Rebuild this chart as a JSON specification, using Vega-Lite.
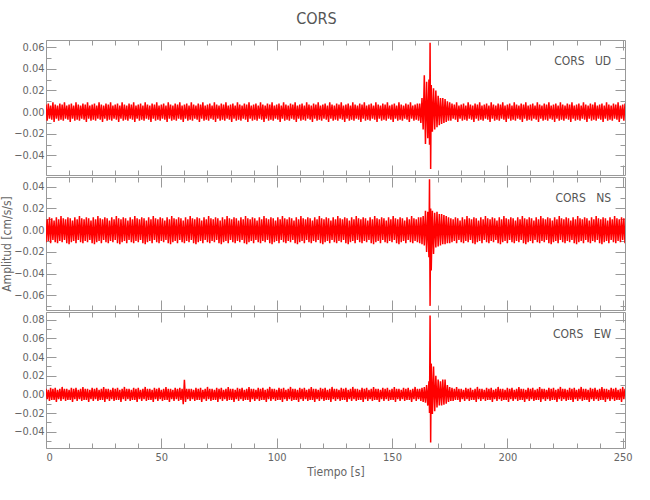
{
"$schema":"https://vega.github.io/schema/vega-lite/v6.json",
"background":"white",
"padding":{"left":0,"top":11,"right":23,"bottom":5},
"title":{"text":"CORS","fontSize":16,"font":"Liberation Sans Narrow, DejaVu Sans Condensed, Liberation Sans, sans-serif","fontWeight":"normal","color":"#555555","anchor":"middle","offset":12},
"spacing":0,
"config":{"view":{"stroke":"#999999","strokeWidth":1},"font":"Liberation Sans Narrow, DejaVu Sans Condensed, Liberation Sans, sans-serif",
"axis":{"labelFont":"Liberation Sans Narrow, DejaVu Sans Condensed, Liberation Sans, sans-serif","labelFontSize":11,"labelColor":"#666666","tickColor":"#999999","domain":false,"grid":false,"titleFont":"Liberation Sans Narrow, DejaVu Sans Condensed, Liberation Sans, sans-serif","titleFontWeight":"normal","titleFontSize":12,"titleColor":"#666666"}},
"datasets":{"trace":[
{"t":0,"UD":0.007,"NS":-0.011,"EW":0.006},{"t":0.5,"UD":-0.008,"NS":0.010,"EW":-0.005},{"t":1,"UD":0.008,"NS":-0.010,"EW":0.005},{"t":1.5,"UD":-0.006,"NS":0.012,"EW":-0.007},{"t":2,"UD":0.006,"NS":-0.012,"EW":0.007},{"t":2.5,"UD":-0.007,"NS":0.011,"EW":-0.006},{"t":3,"UD":0.009,"NS":-0.009,"EW":0.006},{"t":3.5,"UD":-0.009,"NS":0.009,"EW":-0.006},{"t":4,"UD":0.007,"NS":-0.011,"EW":0.007},{"t":4.5,"UD":-0.006,"NS":0.012,"EW":-0.008},
{"t":5,"UD":0.006,"NS":-0.012,"EW":0.005},{"t":5.5,"UD":-0.008,"NS":0.010,"EW":-0.005},{"t":6,"UD":0.008,"NS":-0.010,"EW":0.006},{"t":6.5,"UD":-0.007,"NS":0.013,"EW":-0.007},{"t":7,"UD":0.007,"NS":-0.011,"EW":0.008},{"t":7.5,"UD":-0.008,"NS":0.011,"EW":-0.005},{"t":8,"UD":0.009,"NS":-0.009,"EW":0.006},{"t":8.5,"UD":-0.006,"NS":0.010,"EW":-0.007},{"t":9,"UD":0.006,"NS":-0.012,"EW":0.006},{"t":9.5,"UD":-0.007,"NS":0.012,"EW":-0.006},
{"t":10,"UD":0.007,"NS":-0.013,"EW":0.005},{"t":10.5,"UD":-0.009,"NS":0.011,"EW":-0.006},{"t":11,"UD":0.008,"NS":-0.011,"EW":0.007},{"t":11.5,"UD":-0.006,"NS":0.009,"EW":-0.008},{"t":12,"UD":0.006,"NS":-0.010,"EW":0.006},{"t":12.5,"UD":-0.008,"NS":0.012,"EW":-0.005},{"t":13,"UD":0.009,"NS":-0.012,"EW":0.007},{"t":13.5,"UD":-0.007,"NS":0.010,"EW":-0.007},{"t":14,"UD":0.007,"NS":-0.009,"EW":0.005},{"t":14.5,"UD":-0.008,"NS":0.013,"EW":-0.005},
{"t":15,"UD":0.006,"NS":-0.011,"EW":0.006},{"t":15.5,"UD":-0.006,"NS":0.011,"EW":-0.007},{"t":16,"UD":0.008,"NS":-0.012,"EW":0.008},{"t":16.5,"UD":-0.007,"NS":0.010,"EW":-0.006},{"t":17,"UD":0.007,"NS":-0.010,"EW":0.006},{"t":17.5,"UD":-0.009,"NS":0.012,"EW":-0.006},{"t":18,"UD":0.009,"NS":-0.011,"EW":0.006},{"t":18.5,"UD":-0.006,"NS":0.011,"EW":-0.008},{"t":19,"UD":0.006,"NS":-0.009,"EW":0.005},{"t":19.5,"UD":-0.008,"NS":0.009,"EW":-0.005},
{"t":20,"UD":0.007,"NS":-0.012,"EW":0.007},{"t":20.5,"UD":-0.007,"NS":0.012,"EW":-0.007},{"t":21,"UD":0.008,"NS":-0.013,"EW":0.006},{"t":21.5,"UD":-0.008,"NS":0.010,"EW":-0.005},{"t":22,"UD":0.006,"NS":-0.011,"EW":0.007},{"t":22.5,"UD":-0.006,"NS":0.013,"EW":-0.007},{"t":23,"UD":0.009,"NS":-0.010,"EW":0.005},{"t":23.5,"UD":-0.007,"NS":0.011,"EW":-0.006},{"t":24,"UD":0.007,"NS":-0.012,"EW":0.006},{"t":24.5,"UD":-0.009,"NS":0.010,"EW":-0.006},
{"t":25,"UD":0.006,"NS":-0.009,"EW":0.008},{"t":25.5,"UD":-0.006,"NS":0.012,"EW":-0.008},{"t":26,"UD":0.008,"NS":-0.011,"EW":0.006},{"t":26.5,"UD":-0.008,"NS":0.011,"EW":-0.005},{"t":27,"UD":0.007,"NS":-0.012,"EW":0.006},{"t":27.5,"UD":-0.007,"NS":0.009,"EW":-0.007},{"t":28,"UD":0.009,"NS":-0.010,"EW":0.005},{"t":28.5,"UD":-0.008,"NS":0.012,"EW":-0.005},{"t":29,"UD":0.006,"NS":-0.011,"EW":0.007},{"t":29.5,"UD":-0.006,"NS":0.010,"EW":-0.007},
{"t":30,"UD":0.007,"NS":-0.009,"EW":0.006},{"t":30.5,"UD":-0.007,"NS":0.013,"EW":-0.006},{"t":31,"UD":0.008,"NS":-0.012,"EW":0.007},{"t":31.5,"UD":-0.009,"NS":0.011,"EW":-0.006},{"t":32,"UD":0.006,"NS":-0.013,"EW":0.005},{"t":32.5,"UD":-0.006,"NS":0.010,"EW":-0.008},{"t":33,"UD":0.009,"NS":-0.011,"EW":0.006},{"t":33.5,"UD":-0.008,"NS":0.012,"EW":-0.005},{"t":34,"UD":0.007,"NS":-0.010,"EW":0.008},{"t":34.5,"UD":-0.007,"NS":0.011,"EW":-0.007},
{"t":35,"UD":0.006,"NS":-0.012,"EW":0.006},{"t":35.5,"UD":-0.008,"NS":0.009,"EW":-0.005},{"t":36,"UD":0.008,"NS":-0.009,"EW":0.006},{"t":36.5,"UD":-0.006,"NS":0.012,"EW":-0.007},{"t":37,"UD":0.007,"NS":-0.011,"EW":0.005},{"t":37.5,"UD":-0.007,"NS":0.010,"EW":-0.006},{"t":38,"UD":0.009,"NS":-0.012,"EW":0.007},{"t":38.5,"UD":-0.009,"NS":0.013,"EW":-0.006},{"t":39,"UD":0.006,"NS":-0.010,"EW":0.006},{"t":39.5,"UD":-0.006,"NS":0.011,"EW":-0.008},
{"t":40,"UD":0.007,"NS":-0.011,"EW":0.007},{"t":40.5,"UD":-0.008,"NS":0.010,"EW":-0.005},{"t":41,"UD":0.008,"NS":-0.009,"EW":0.005},{"t":41.5,"UD":-0.007,"NS":0.012,"EW":-0.007},{"t":42,"UD":0.006,"NS":-0.012,"EW":0.006},{"t":42.5,"UD":-0.008,"NS":0.011,"EW":-0.005},{"t":43,"UD":0.009,"NS":-0.013,"EW":0.008},{"t":43.5,"UD":-0.006,"NS":0.009,"EW":-0.007},{"t":44,"UD":0.007,"NS":-0.011,"EW":0.006},{"t":44.5,"UD":-0.007,"NS":0.012,"EW":-0.006},
{"t":45,"UD":0.006,"NS":-0.010,"EW":0.006},{"t":45.5,"UD":-0.009,"NS":0.010,"EW":-0.006},{"t":46,"UD":0.008,"NS":-0.012,"EW":0.005},{"t":46.5,"UD":-0.006,"NS":0.013,"EW":-0.008},{"t":47,"UD":0.007,"NS":-0.009,"EW":0.007},{"t":47.5,"UD":-0.008,"NS":0.011,"EW":-0.005},{"t":48,"UD":0.009,"NS":-0.011,"EW":0.006},{"t":48.5,"UD":-0.007,"NS":0.010,"EW":-0.007},{"t":49,"UD":0.006,"NS":-0.012,"EW":0.007},{"t":49.5,"UD":-0.008,"NS":0.012,"EW":-0.005},
{"t":50,"UD":0.007,"NS":-0.010,"EW":0.005},{"t":50.5,"UD":-0.006,"NS":0.011,"EW":-0.007},{"t":51,"UD":0.008,"NS":-0.011,"EW":0.006},{"t":51.5,"UD":-0.007,"NS":0.009,"EW":-0.006},{"t":52,"UD":0.006,"NS":-0.009,"EW":0.008},{"t":52.5,"UD":-0.009,"NS":0.012,"EW":-0.006},{"t":53,"UD":0.009,"NS":-0.012,"EW":0.006},{"t":53.5,"UD":-0.006,"NS":0.010,"EW":-0.008},{"t":54,"UD":0.007,"NS":-0.013,"EW":0.006},{"t":54.5,"UD":-0.008,"NS":0.013,"EW":-0.005},
{"t":55,"UD":0.006,"NS":-0.011,"EW":0.005},{"t":55.5,"UD":-0.007,"NS":0.011,"EW":-0.007},{"t":56,"UD":0.008,"NS":-0.010,"EW":0.007},{"t":56.5,"UD":-0.008,"NS":0.010,"EW":-0.005},{"t":57,"UD":0.007,"NS":-0.012,"EW":0.006},{"t":57.5,"UD":-0.006,"NS":0.012,"EW":-0.007},{"t":58,"UD":0.009,"NS":-0.009,"EW":0.007},{"t":58.5,"UD":-0.007,"NS":0.011,"EW":-0.006},{"t":59,"UD":0.006,"NS":-0.011,"EW":0.006},{"t":59.5,"UD":-0.009,"NS":0.009,"EW":-0.0104},
{"t":60,"UD":0.007,"NS":-0.012,"EW":0.0158},{"t":60.5,"UD":-0.006,"NS":0.012,"EW":-0.008},{"t":61,"UD":0.008,"NS":-0.010,"EW":0.006},{"t":61.5,"UD":-0.008,"NS":0.010,"EW":-0.005},{"t":62,"UD":0.006,"NS":-0.011,"EW":0.006},{"t":62.5,"UD":-0.007,"NS":0.013,"EW":-0.007},{"t":63,"UD":0.009,"NS":-0.009,"EW":0.006},{"t":63.5,"UD":-0.008,"NS":0.011,"EW":-0.005},{"t":64,"UD":0.007,"NS":-0.012,"EW":0.005},{"t":64.5,"UD":-0.006,"NS":0.010,"EW":-0.007},
{"t":65,"UD":0.006,"NS":-0.013,"EW":0.007},{"t":65.5,"UD":-0.007,"NS":0.012,"EW":-0.006},{"t":66,"UD":0.008,"NS":-0.011,"EW":0.006},{"t":66.5,"UD":-0.009,"NS":0.011,"EW":-0.006},{"t":67,"UD":0.007,"NS":-0.010,"EW":0.007},{"t":67.5,"UD":-0.006,"NS":0.009,"EW":-0.008},{"t":68,"UD":0.009,"NS":-0.012,"EW":0.005},{"t":68.5,"UD":-0.008,"NS":0.012,"EW":-0.005},{"t":69,"UD":0.006,"NS":-0.009,"EW":0.006},{"t":69.5,"UD":-0.007,"NS":0.010,"EW":-0.007},
{"t":70,"UD":0.007,"NS":-0.011,"EW":0.008},{"t":70.5,"UD":-0.008,"NS":0.013,"EW":-0.005},{"t":71,"UD":0.008,"NS":-0.012,"EW":0.006},{"t":71.5,"UD":-0.006,"NS":0.011,"EW":-0.007},{"t":72,"UD":0.006,"NS":-0.010,"EW":0.006},{"t":72.5,"UD":-0.007,"NS":0.010,"EW":-0.006},{"t":73,"UD":0.009,"NS":-0.011,"EW":0.005},{"t":73.5,"UD":-0.009,"NS":0.012,"EW":-0.006},{"t":74,"UD":0.007,"NS":-0.009,"EW":0.007},{"t":74.5,"UD":-0.006,"NS":0.011,"EW":-0.008},
{"t":75,"UD":0.006,"NS":-0.012,"EW":0.006},{"t":75.5,"UD":-0.008,"NS":0.009,"EW":-0.005},{"t":76,"UD":0.008,"NS":-0.013,"EW":0.007},{"t":76.5,"UD":-0.007,"NS":0.012,"EW":-0.007},{"t":77,"UD":0.007,"NS":-0.011,"EW":0.005},{"t":77.5,"UD":-0.008,"NS":0.010,"EW":-0.005},{"t":78,"UD":0.009,"NS":-0.010,"EW":0.006},{"t":78.5,"UD":-0.006,"NS":0.013,"EW":-0.007},{"t":79,"UD":0.006,"NS":-0.012,"EW":0.008},{"t":79.5,"UD":-0.007,"NS":0.011,"EW":-0.006},
{"t":80,"UD":0.007,"NS":-0.009,"EW":0.006},{"t":80.5,"UD":-0.009,"NS":0.010,"EW":-0.006},{"t":81,"UD":0.008,"NS":-0.011,"EW":0.006},{"t":81.5,"UD":-0.006,"NS":0.012,"EW":-0.008},{"t":82,"UD":0.006,"NS":-0.012,"EW":0.005},{"t":82.5,"UD":-0.008,"NS":0.011,"EW":-0.005},{"t":83,"UD":0.009,"NS":-0.010,"EW":0.007},{"t":83.5,"UD":-0.007,"NS":0.009,"EW":-0.007},{"t":84,"UD":0.007,"NS":-0.011,"EW":0.006},{"t":84.5,"UD":-0.008,"NS":0.012,"EW":-0.005},
{"t":85,"UD":0.006,"NS":-0.009,"EW":0.007},{"t":85.5,"UD":-0.006,"NS":0.010,"EW":-0.007},{"t":86,"UD":0.008,"NS":-0.012,"EW":0.005},{"t":86.5,"UD":-0.007,"NS":0.013,"EW":-0.006},{"t":87,"UD":0.007,"NS":-0.013,"EW":0.006},{"t":87.5,"UD":-0.009,"NS":0.011,"EW":-0.006},{"t":88,"UD":0.009,"NS":-0.011,"EW":0.008},{"t":88.5,"UD":-0.006,"NS":0.010,"EW":-0.008},{"t":89,"UD":0.006,"NS":-0.010,"EW":0.006},{"t":89.5,"UD":-0.008,"NS":0.012,"EW":-0.005},
{"t":90,"UD":0.007,"NS":-0.012,"EW":0.006},{"t":90.5,"UD":-0.007,"NS":0.011,"EW":-0.007},{"t":91,"UD":0.008,"NS":-0.009,"EW":0.005},{"t":91.5,"UD":-0.008,"NS":0.009,"EW":-0.005},{"t":92,"UD":0.006,"NS":-0.011,"EW":0.007},{"t":92.5,"UD":-0.006,"NS":0.012,"EW":-0.007},{"t":93,"UD":0.009,"NS":-0.012,"EW":0.006},{"t":93.5,"UD":-0.007,"NS":0.010,"EW":-0.006},{"t":94,"UD":0.007,"NS":-0.010,"EW":0.007},{"t":94.5,"UD":-0.009,"NS":0.013,"EW":-0.006},
{"t":95,"UD":0.006,"NS":-0.011,"EW":0.005},{"t":95.5,"UD":-0.006,"NS":0.011,"EW":-0.008},{"t":96,"UD":0.008,"NS":-0.009,"EW":0.006},{"t":96.5,"UD":-0.008,"NS":0.010,"EW":-0.005},{"t":97,"UD":0.007,"NS":-0.012,"EW":0.008},{"t":97.5,"UD":-0.007,"NS":0.012,"EW":-0.007},{"t":98,"UD":0.009,"NS":-0.013,"EW":0.006},{"t":98.5,"UD":-0.008,"NS":0.011,"EW":-0.005},{"t":99,"UD":0.006,"NS":-0.011,"EW":0.006},{"t":99.5,"UD":-0.006,"NS":0.009,"EW":-0.007},
{"t":100,"UD":0.007,"NS":-0.010,"EW":0.005},{"t":100.5,"UD":-0.007,"NS":0.012,"EW":-0.006},{"t":101,"UD":0.008,"NS":-0.012,"EW":0.007},{"t":101.5,"UD":-0.009,"NS":0.010,"EW":-0.006},{"t":102,"UD":0.006,"NS":-0.009,"EW":0.006},{"t":102.5,"UD":-0.006,"NS":0.013,"EW":-0.008},{"t":103,"UD":0.009,"NS":-0.011,"EW":0.007},{"t":103.5,"UD":-0.008,"NS":0.011,"EW":-0.005},{"t":104,"UD":0.007,"NS":-0.012,"EW":0.005},{"t":104.5,"UD":-0.007,"NS":0.010,"EW":-0.007},
{"t":105,"UD":0.006,"NS":-0.010,"EW":0.006},{"t":105.5,"UD":-0.008,"NS":0.012,"EW":-0.005},{"t":106,"UD":0.008,"NS":-0.011,"EW":0.008},{"t":106.5,"UD":-0.006,"NS":0.011,"EW":-0.007},{"t":107,"UD":0.007,"NS":-0.009,"EW":0.006},{"t":107.5,"UD":-0.007,"NS":0.009,"EW":-0.006},{"t":108,"UD":0.009,"NS":-0.012,"EW":0.006},{"t":108.5,"UD":-0.009,"NS":0.012,"EW":-0.006},{"t":109,"UD":0.006,"NS":-0.013,"EW":0.005},{"t":109.5,"UD":-0.006,"NS":0.010,"EW":-0.008},
{"t":110,"UD":0.007,"NS":-0.011,"EW":0.007},{"t":110.5,"UD":-0.008,"NS":0.013,"EW":-0.005},{"t":111,"UD":0.008,"NS":-0.010,"EW":0.006},{"t":111.5,"UD":-0.007,"NS":0.011,"EW":-0.007},{"t":112,"UD":0.006,"NS":-0.012,"EW":0.007},{"t":112.5,"UD":-0.008,"NS":0.010,"EW":-0.005},{"t":113,"UD":0.009,"NS":-0.009,"EW":0.005},{"t":113.5,"UD":-0.006,"NS":0.012,"EW":-0.007},{"t":114,"UD":0.007,"NS":-0.011,"EW":0.006},{"t":114.5,"UD":-0.007,"NS":0.011,"EW":-0.006},
{"t":115,"UD":0.006,"NS":-0.012,"EW":0.008},{"t":115.5,"UD":-0.009,"NS":0.009,"EW":-0.006},{"t":116,"UD":0.008,"NS":-0.010,"EW":0.006},{"t":116.5,"UD":-0.006,"NS":0.012,"EW":-0.008},{"t":117,"UD":0.007,"NS":-0.011,"EW":0.006},{"t":117.5,"UD":-0.008,"NS":0.010,"EW":-0.005},{"t":118,"UD":0.009,"NS":-0.009,"EW":0.005},{"t":118.5,"UD":-0.007,"NS":0.013,"EW":-0.007},{"t":119,"UD":0.006,"NS":-0.012,"EW":0.007},{"t":119.5,"UD":-0.008,"NS":0.011,"EW":-0.005},
{"t":120,"UD":0.007,"NS":-0.013,"EW":0.006},{"t":120.5,"UD":-0.006,"NS":0.010,"EW":-0.007},{"t":121,"UD":0.008,"NS":-0.011,"EW":0.007},{"t":121.5,"UD":-0.007,"NS":0.012,"EW":-0.006},{"t":122,"UD":0.006,"NS":-0.010,"EW":0.005},{"t":122.5,"UD":-0.009,"NS":0.011,"EW":-0.006},{"t":123,"UD":0.009,"NS":-0.012,"EW":0.006},{"t":123.5,"UD":-0.006,"NS":0.009,"EW":-0.008},{"t":124,"UD":0.007,"NS":-0.009,"EW":0.008},{"t":124.5,"UD":-0.008,"NS":0.012,"EW":-0.005},
{"t":125,"UD":0.006,"NS":-0.011,"EW":0.006},{"t":125.5,"UD":-0.007,"NS":0.010,"EW":-0.007},{"t":126,"UD":0.008,"NS":-0.012,"EW":0.006},{"t":126.5,"UD":-0.008,"NS":0.013,"EW":-0.005},{"t":127,"UD":0.007,"NS":-0.010,"EW":0.005},{"t":127.5,"UD":-0.006,"NS":0.011,"EW":-0.007},{"t":128,"UD":0.009,"NS":-0.011,"EW":0.007},{"t":128.5,"UD":-0.007,"NS":0.010,"EW":-0.006},{"t":129,"UD":0.006,"NS":-0.009,"EW":0.006},{"t":129.5,"UD":-0.009,"NS":0.012,"EW":-0.006},
{"t":130,"UD":0.007,"NS":-0.012,"EW":0.007},{"t":130.5,"UD":-0.006,"NS":0.011,"EW":-0.008},{"t":131,"UD":0.008,"NS":-0.013,"EW":0.005},{"t":131.5,"UD":-0.008,"NS":0.009,"EW":-0.005},{"t":132,"UD":0.006,"NS":-0.011,"EW":0.006},{"t":132.5,"UD":-0.007,"NS":0.012,"EW":-0.007},{"t":133,"UD":0.009,"NS":-0.010,"EW":0.008},{"t":133.5,"UD":-0.008,"NS":0.010,"EW":-0.005},{"t":134,"UD":0.007,"NS":-0.012,"EW":0.006},{"t":134.5,"UD":-0.006,"NS":0.013,"EW":-0.007},
{"t":135,"UD":0.006,"NS":-0.009,"EW":0.006},{"t":135.5,"UD":-0.007,"NS":0.011,"EW":-0.006},{"t":136,"UD":0.008,"NS":-0.011,"EW":0.005},{"t":136.5,"UD":-0.009,"NS":0.010,"EW":-0.006},{"t":137,"UD":0.007,"NS":-0.012,"EW":0.007},{"t":137.5,"UD":-0.006,"NS":0.012,"EW":-0.008},{"t":138,"UD":0.009,"NS":-0.010,"EW":0.006},{"t":138.5,"UD":-0.008,"NS":0.011,"EW":-0.005},{"t":139,"UD":0.006,"NS":-0.011,"EW":0.007},{"t":139.5,"UD":-0.007,"NS":0.009,"EW":-0.007},
{"t":140,"UD":0.007,"NS":-0.009,"EW":0.005},{"t":140.5,"UD":-0.008,"NS":0.012,"EW":-0.005},{"t":141,"UD":0.008,"NS":-0.012,"EW":0.006},{"t":141.5,"UD":-0.006,"NS":0.010,"EW":-0.007},{"t":142,"UD":0.006,"NS":-0.013,"EW":0.008},{"t":142.5,"UD":-0.007,"NS":0.013,"EW":-0.006},{"t":143,"UD":0.009,"NS":-0.011,"EW":0.006},{"t":143.5,"UD":-0.009,"NS":0.011,"EW":-0.006},{"t":144,"UD":0.007,"NS":-0.010,"EW":0.006},{"t":144.5,"UD":-0.006,"NS":0.010,"EW":-0.008},
{"t":145,"UD":0.006,"NS":-0.012,"EW":0.005},{"t":145.5,"UD":-0.008,"NS":0.012,"EW":-0.005},{"t":146,"UD":0.008,"NS":-0.009,"EW":0.007},{"t":146.5,"UD":-0.007,"NS":0.011,"EW":-0.007},{"t":147,"UD":0.007,"NS":-0.011,"EW":0.006},{"t":147.5,"UD":-0.008,"NS":0.009,"EW":-0.005},{"t":148,"UD":0.009,"NS":-0.012,"EW":0.007},{"t":148.5,"UD":-0.006,"NS":0.012,"EW":-0.007},{"t":149,"UD":0.006,"NS":-0.010,"EW":0.005},{"t":149.5,"UD":-0.007,"NS":0.010,"EW":-0.006},
{"t":150,"UD":0.007,"NS":-0.011,"EW":0.006},{"t":150.5,"UD":-0.009,"NS":0.013,"EW":-0.006},{"t":151,"UD":0.008,"NS":-0.009,"EW":0.008},{"t":151.5,"UD":-0.006,"NS":0.011,"EW":-0.008},{"t":152,"UD":0.006,"NS":-0.012,"EW":0.006},{"t":152.5,"UD":-0.008,"NS":0.010,"EW":-0.005},{"t":153,"UD":0.009,"NS":-0.013,"EW":0.006},{"t":153.5,"UD":-0.007,"NS":0.012,"EW":-0.007},{"t":154,"UD":0.007,"NS":-0.011,"EW":0.005},{"t":154.5,"UD":-0.008,"NS":0.011,"EW":-0.005},
{"t":155,"UD":0.006,"NS":-0.010,"EW":0.007},{"t":155.5,"UD":-0.006,"NS":0.009,"EW":-0.007},{"t":156,"UD":0.008,"NS":-0.012,"EW":0.006},{"t":156.5,"UD":-0.007,"NS":0.012,"EW":-0.006},{"t":157,"UD":0.007,"NS":-0.009,"EW":0.007},{"t":157.5,"UD":-0.009,"NS":0.010,"EW":-0.006},{"t":158,"UD":0.009,"NS":-0.011,"EW":0.005},{"t":158.5,"UD":-0.006,"NS":0.013,"EW":-0.008},{"t":159,"UD":0.006,"NS":-0.012,"EW":0.006},{"t":159.5,"UD":-0.008,"NS":0.011,"EW":-0.005},
{"t":160,"UD":0.007,"NS":-0.010,"EW":0.008},{"t":160.5,"UD":-0.007,"NS":0.010,"EW":-0.007},{"t":161,"UD":0.008,"NS":-0.011,"EW":0.006},{"t":161.5,"UD":-0.008,"NS":0.012,"EW":-0.005},
{"t":162,"UD":0.008,"NS":-0.012,"EW":0.006},{"t":162.5,"UD":-0.010,"NS":0.012,"EW":-0.007},{"t":163,"UD":0.013,"NS":-0.013,"EW":0.007},{"t":163.5,"UD":-0.016,"NS":0.013,"EW":-0.008},{"t":164,"UD":0.034,"NS":-0.014,"EW":0.008},{"t":164.5,"UD":-0.0295,"NS":0.018,"EW":-0.009},{"t":165,"UD":0.028,"NS":-0.020,"EW":0.010},{"t":165.5,"UD":-0.024,"NS":0.017,"EW":-0.012},
{"t":166,"UD":0.030,"NS":-0.025,"EW":0.014},{"t":166.25,"UD":-0.030,"NS":0.047,"EW":-0.020},{"t":166.5,"UD":0.064,"NS":-0.0697,"EW":0.0846},{"t":166.75,"UD":-0.0525,"NS":0.020,"EW":-0.0516},{"t":167,"UD":0.025,"NS":-0.037,"EW":0.033},{"t":167.5,"UD":-0.018,"NS":0.018,"EW":-0.021},
{"t":168,"UD":0.022,"NS":-0.022,"EW":0.030},{"t":168.5,"UD":-0.016,"NS":0.016,"EW":-0.018},{"t":169,"UD":0.020,"NS":-0.016,"EW":0.020},{"t":169.5,"UD":-0.014,"NS":0.017,"EW":-0.014},{"t":170,"UD":0.015,"NS":-0.015,"EW":0.016},{"t":170.5,"UD":-0.012,"NS":0.015,"EW":-0.012},{"t":171,"UD":0.013,"NS":-0.014,"EW":0.014},{"t":171.5,"UD":-0.011,"NS":0.015,"EW":-0.012},
{"t":172,"UD":0.013,"NS":-0.013,"EW":0.016},{"t":172.5,"UD":-0.010,"NS":0.014,"EW":-0.011},{"t":173,"UD":0.012,"NS":-0.013,"EW":0.016},{"t":173.5,"UD":-0.009,"NS":0.013,"EW":-0.010},{"t":174,"UD":0.010,"NS":-0.012,"EW":0.010},{"t":174.5,"UD":-0.008,"NS":0.012,"EW":-0.008},{"t":175,"UD":0.009,"NS":-0.012,"EW":0.008},{"t":175.5,"UD":-0.008,"NS":0.011,"EW":-0.007},{"t":176,"UD":0.008,"NS":-0.011,"EW":0.007},
{"t":176.5,"UD":-0.006,"NS":0.010,"EW":-0.007},{"t":177,"UD":0.007,"NS":-0.010,"EW":0.006},{"t":177.5,"UD":-0.007,"NS":0.012,"EW":-0.006},{"t":178,"UD":0.009,"NS":-0.012,"EW":0.008},{"t":178.5,"UD":-0.009,"NS":0.011,"EW":-0.006},{"t":179,"UD":0.006,"NS":-0.009,"EW":0.006},{"t":179.5,"UD":-0.006,"NS":0.009,"EW":-0.008},
{"t":180,"UD":0.007,"NS":-0.011,"EW":0.006},{"t":180.5,"UD":-0.008,"NS":0.012,"EW":-0.005},{"t":181,"UD":0.008,"NS":-0.012,"EW":0.005},{"t":181.5,"UD":-0.007,"NS":0.010,"EW":-0.007},{"t":182,"UD":0.006,"NS":-0.010,"EW":0.007},{"t":182.5,"UD":-0.008,"NS":0.013,"EW":-0.005},{"t":183,"UD":0.009,"NS":-0.011,"EW":0.006},{"t":183.5,"UD":-0.006,"NS":0.011,"EW":-0.007},{"t":184,"UD":0.007,"NS":-0.009,"EW":0.007},{"t":184.5,"UD":-0.007,"NS":0.010,"EW":-0.006},
{"t":185,"UD":0.006,"NS":-0.012,"EW":0.005},{"t":185.5,"UD":-0.009,"NS":0.012,"EW":-0.006},{"t":186,"UD":0.008,"NS":-0.013,"EW":0.006},{"t":186.5,"UD":-0.006,"NS":0.011,"EW":-0.008},{"t":187,"UD":0.007,"NS":-0.011,"EW":0.008},{"t":187.5,"UD":-0.008,"NS":0.009,"EW":-0.005},{"t":188,"UD":0.009,"NS":-0.010,"EW":0.006},{"t":188.5,"UD":-0.007,"NS":0.012,"EW":-0.007},{"t":189,"UD":0.006,"NS":-0.012,"EW":0.006},{"t":189.5,"UD":-0.008,"NS":0.010,"EW":-0.005},
{"t":190,"UD":0.007,"NS":-0.009,"EW":0.005},{"t":190.5,"UD":-0.006,"NS":0.013,"EW":-0.007},{"t":191,"UD":0.008,"NS":-0.011,"EW":0.007},{"t":191.5,"UD":-0.007,"NS":0.011,"EW":-0.006},{"t":192,"UD":0.006,"NS":-0.012,"EW":0.006},{"t":192.5,"UD":-0.009,"NS":0.010,"EW":-0.006},{"t":193,"UD":0.009,"NS":-0.010,"EW":0.007},{"t":193.5,"UD":-0.006,"NS":0.012,"EW":-0.008},{"t":194,"UD":0.007,"NS":-0.011,"EW":0.005},{"t":194.5,"UD":-0.008,"NS":0.011,"EW":-0.005},
{"t":195,"UD":0.006,"NS":-0.009,"EW":0.006},{"t":195.5,"UD":-0.007,"NS":0.009,"EW":-0.007},{"t":196,"UD":0.008,"NS":-0.012,"EW":0.008},{"t":196.5,"UD":-0.008,"NS":0.012,"EW":-0.005},{"t":197,"UD":0.007,"NS":-0.013,"EW":0.006},{"t":197.5,"UD":-0.006,"NS":0.010,"EW":-0.007},{"t":198,"UD":0.009,"NS":-0.011,"EW":0.006},{"t":198.5,"UD":-0.007,"NS":0.013,"EW":-0.006},{"t":199,"UD":0.006,"NS":-0.010,"EW":0.005},{"t":199.5,"UD":-0.009,"NS":0.011,"EW":-0.006},
{"t":200,"UD":0.007,"NS":-0.012,"EW":0.007},{"t":200.5,"UD":-0.006,"NS":0.010,"EW":-0.008},{"t":201,"UD":0.008,"NS":-0.009,"EW":0.006},{"t":201.5,"UD":-0.008,"NS":0.012,"EW":-0.005},{"t":202,"UD":0.006,"NS":-0.011,"EW":0.007},{"t":202.5,"UD":-0.007,"NS":0.011,"EW":-0.007},{"t":203,"UD":0.009,"NS":-0.012,"EW":0.005},{"t":203.5,"UD":-0.008,"NS":0.009,"EW":-0.005},{"t":204,"UD":0.007,"NS":-0.010,"EW":0.006},{"t":204.5,"UD":-0.006,"NS":0.012,"EW":-0.007},
{"t":205,"UD":0.006,"NS":-0.011,"EW":0.008},{"t":205.5,"UD":-0.007,"NS":0.010,"EW":-0.006},{"t":206,"UD":0.008,"NS":-0.009,"EW":0.006},{"t":206.5,"UD":-0.009,"NS":0.013,"EW":-0.006},{"t":207,"UD":0.007,"NS":-0.012,"EW":0.006},{"t":207.5,"UD":-0.006,"NS":0.011,"EW":-0.008},{"t":208,"UD":0.009,"NS":-0.013,"EW":0.005},{"t":208.5,"UD":-0.008,"NS":0.010,"EW":-0.005},{"t":209,"UD":0.006,"NS":-0.011,"EW":0.007},{"t":209.5,"UD":-0.007,"NS":0.012,"EW":-0.007},
{"t":210,"UD":0.007,"NS":-0.010,"EW":0.006},{"t":210.5,"UD":-0.008,"NS":0.011,"EW":-0.005},{"t":211,"UD":0.008,"NS":-0.012,"EW":0.007},{"t":211.5,"UD":-0.006,"NS":0.009,"EW":-0.007},{"t":212,"UD":0.006,"NS":-0.009,"EW":0.005},{"t":212.5,"UD":-0.007,"NS":0.012,"EW":-0.006},{"t":213,"UD":0.009,"NS":-0.011,"EW":0.006},{"t":213.5,"UD":-0.009,"NS":0.010,"EW":-0.006},{"t":214,"UD":0.007,"NS":-0.012,"EW":0.008},{"t":214.5,"UD":-0.006,"NS":0.013,"EW":-0.008},
{"t":215,"UD":0.006,"NS":-0.010,"EW":0.006},{"t":215.5,"UD":-0.008,"NS":0.011,"EW":-0.005},{"t":216,"UD":0.008,"NS":-0.011,"EW":0.006},{"t":216.5,"UD":-0.007,"NS":0.010,"EW":-0.007},{"t":217,"UD":0.007,"NS":-0.009,"EW":0.005},{"t":217.5,"UD":-0.008,"NS":0.012,"EW":-0.005},{"t":218,"UD":0.009,"NS":-0.012,"EW":0.007},{"t":218.5,"UD":-0.006,"NS":0.011,"EW":-0.007},{"t":219,"UD":0.006,"NS":-0.013,"EW":0.006},{"t":219.5,"UD":-0.007,"NS":0.009,"EW":-0.006},
{"t":220,"UD":0.007,"NS":-0.011,"EW":0.007},{"t":220.5,"UD":-0.009,"NS":0.012,"EW":-0.006},{"t":221,"UD":0.008,"NS":-0.010,"EW":0.005},{"t":221.5,"UD":-0.006,"NS":0.010,"EW":-0.008},{"t":222,"UD":0.006,"NS":-0.012,"EW":0.006},{"t":222.5,"UD":-0.008,"NS":0.013,"EW":-0.005},{"t":223,"UD":0.009,"NS":-0.009,"EW":0.008},{"t":223.5,"UD":-0.007,"NS":0.011,"EW":-0.007},{"t":224,"UD":0.007,"NS":-0.011,"EW":0.006},{"t":224.5,"UD":-0.008,"NS":0.010,"EW":-0.005},
{"t":225,"UD":0.006,"NS":-0.012,"EW":0.006},{"t":225.5,"UD":-0.006,"NS":0.012,"EW":-0.007},{"t":226,"UD":0.008,"NS":-0.010,"EW":0.005},{"t":226.5,"UD":-0.007,"NS":0.011,"EW":-0.006},{"t":227,"UD":0.007,"NS":-0.011,"EW":0.007},{"t":227.5,"UD":-0.009,"NS":0.009,"EW":-0.006},{"t":228,"UD":0.009,"NS":-0.009,"EW":0.006},{"t":228.5,"UD":-0.006,"NS":0.012,"EW":-0.008},{"t":229,"UD":0.006,"NS":-0.012,"EW":0.007},{"t":229.5,"UD":-0.008,"NS":0.010,"EW":-0.005},
{"t":230,"UD":0.007,"NS":-0.013,"EW":0.005},{"t":230.5,"UD":-0.007,"NS":0.013,"EW":-0.007},{"t":231,"UD":0.008,"NS":-0.011,"EW":0.006},{"t":231.5,"UD":-0.008,"NS":0.011,"EW":-0.005},{"t":232,"UD":0.006,"NS":-0.010,"EW":0.008},{"t":232.5,"UD":-0.006,"NS":0.010,"EW":-0.007},{"t":233,"UD":0.009,"NS":-0.012,"EW":0.006},{"t":233.5,"UD":-0.007,"NS":0.012,"EW":-0.006},{"t":234,"UD":0.007,"NS":-0.009,"EW":0.006},{"t":234.5,"UD":-0.009,"NS":0.011,"EW":-0.006},
{"t":235,"UD":0.006,"NS":-0.011,"EW":0.005},{"t":235.5,"UD":-0.006,"NS":0.009,"EW":-0.008},{"t":236,"UD":0.008,"NS":-0.012,"EW":0.007},{"t":236.5,"UD":-0.008,"NS":0.012,"EW":-0.005},{"t":237,"UD":0.007,"NS":-0.010,"EW":0.006},{"t":237.5,"UD":-0.007,"NS":0.010,"EW":-0.007},{"t":238,"UD":0.009,"NS":-0.011,"EW":0.007},{"t":238.5,"UD":-0.008,"NS":0.013,"EW":-0.005},{"t":239,"UD":0.006,"NS":-0.009,"EW":0.005},{"t":239.5,"UD":-0.006,"NS":0.011,"EW":-0.007},
{"t":240,"UD":0.007,"NS":-0.012,"EW":0.006},{"t":240.5,"UD":-0.007,"NS":0.010,"EW":-0.006},{"t":241,"UD":0.008,"NS":-0.013,"EW":0.008},{"t":241.5,"UD":-0.009,"NS":0.012,"EW":-0.006},{"t":242,"UD":0.006,"NS":-0.011,"EW":0.006},{"t":242.5,"UD":-0.006,"NS":0.011,"EW":-0.008},{"t":243,"UD":0.009,"NS":-0.010,"EW":0.006},{"t":243.5,"UD":-0.008,"NS":0.009,"EW":-0.005},{"t":244,"UD":0.007,"NS":-0.012,"EW":0.005},{"t":244.5,"UD":-0.007,"NS":0.012,"EW":-0.007},
{"t":245,"UD":0.006,"NS":-0.009,"EW":0.007},{"t":245.5,"UD":-0.008,"NS":0.010,"EW":-0.005},{"t":246,"UD":0.008,"NS":-0.011,"EW":0.006},{"t":246.5,"UD":-0.006,"NS":0.013,"EW":-0.007},{"t":247,"UD":0.007,"NS":-0.012,"EW":0.007},{"t":247.5,"UD":-0.007,"NS":0.011,"EW":-0.006},{"t":248,"UD":0.009,"NS":-0.010,"EW":0.005},{"t":248.5,"UD":-0.009,"NS":0.010,"EW":-0.006},{"t":249,"UD":0.006,"NS":-0.011,"EW":0.006},{"t":249.5,"UD":-0.006,"NS":0.012,"EW":-0.008},
{"t":250,"UD":0.007,"NS":-0.009,"EW":0.008},{"t":250.5,"UD":-0.008,"NS":0.011,"EW":-0.005},{"t":251,"UD":0.008,"NS":-0.012,"EW":0.006}
]},
"vconcat":[
{"width":579,"height":135,
 "layer":[
  {"data":{"name":"trace"},"mark":{"type":"line","color":"#ff0000","strokeWidth":1.5,"clip":true},
   "encoding":{
    "x":{"field":"t","type":"quantitative","scale":{"domain":[0,251],"nice":false,"zero":false},"axis":{"orient":"bottom","values":[0,10,20,30,40,50,60,70,80,90,100,110,120,130,140,150,160,170,180,190,200,210,220,230,240,250],"labels":false,"title":null,"tickSize":{"condition":{"test":"datum.value % 50 != 0","value":-5},"value":-10}}},
    "y":{"field":"UD","type":"quantitative","scale":{"domain":[-0.058,0.0665],"nice":false,"zero":false},"axis":{"orient":"left","values":[-0.05,-0.04,-0.03,-0.02,-0.01,0,0.01,0.02,0.03,0.04,0.05,0.06],"format":".2f","labelPadding":12,"labelExpr":"abs(datum.value*50-round(datum.value*50))>0.1 ? '' : datum.label","title":null,"tickSize":{"condition":{"test":"abs(datum.value*50-round(datum.value*50))>0.1","value":-5},"value":-10}}}}},
  {"data":{"name":"trace"},"mark":{"type":"line","opacity":0},
   "encoding":{
    "x":{"field":"t","type":"quantitative","axis":{"orient":"top","values":[0,10,20,30,40,50,60,70,80,90,100,110,120,130,140,150,160,170,180,190,200,210,220,230,240,250],"labels":false,"title":null,"tickSize":{"condition":{"test":"datum.value % 50 != 0","value":-5},"value":-10}}},
    "y":{"field":"UD","type":"quantitative","axis":{"orient":"right","values":[-0.05,-0.04,-0.03,-0.02,-0.01,0,0.01,0.02,0.03,0.04,0.05,0.06],"labels":false,"title":null,"tickSize":{"condition":{"test":"abs(datum.value*50-round(datum.value*50))>0.1","value":-5},"value":-10}}}}},
  {"data":{"values":[{"lab":"CORS\u00a0\u00a0\u00a0UD"}]},"mark":{"type":"text","align":"right","baseline":"middle","fontSize":12,"color":"#555555"},
   "encoding":{"x":{"datum":245,"type":"quantitative","axis":null},"y":{"datum":0.047,"type":"quantitative","axis":null},"text":{"field":"lab"}}}
 ],
 "resolve":{"axis":{"x":"independent","y":"independent"}}},
{"width":579,"height":133,
 "layer":[
  {"data":{"name":"trace"},"mark":{"type":"line","color":"#ff0000","strokeWidth":1.5,"clip":true},
   "encoding":{
    "x":{"field":"t","type":"quantitative","scale":{"domain":[0,251],"nice":false,"zero":false},"axis":{"orient":"bottom","values":[0,10,20,30,40,50,60,70,80,90,100,110,120,130,140,150,160,170,180,190,200,210,220,230,240,250],"labels":false,"title":null,"tickSize":{"condition":{"test":"datum.value % 50 != 0","value":-5},"value":-10}}},
    "y":{"field":"NS","type":"quantitative","scale":{"domain":[-0.0735,0.049],"nice":false,"zero":false},"axis":{"orient":"left","values":[-0.07,-0.06,-0.05,-0.04,-0.03,-0.02,-0.01,0,0.01,0.02,0.03,0.04],"format":".2f","labelPadding":12,"labelExpr":"abs(datum.value*50-round(datum.value*50))>0.1 ? '' : datum.label","title":"Amplitud [cm/s/s]","titlePadding":0,"tickSize":{"condition":{"test":"abs(datum.value*50-round(datum.value*50))>0.1","value":-5},"value":-10}}}}},
  {"data":{"name":"trace"},"mark":{"type":"line","opacity":0},
   "encoding":{
    "x":{"field":"t","type":"quantitative","axis":{"orient":"top","values":[0,10,20,30,40,50,60,70,80,90,100,110,120,130,140,150,160,170,180,190,200,210,220,230,240,250],"labels":false,"title":null,"tickSize":{"condition":{"test":"datum.value % 50 != 0","value":-5},"value":-10}}},
    "y":{"field":"NS","type":"quantitative","axis":{"orient":"right","values":[-0.07,-0.06,-0.05,-0.04,-0.03,-0.02,-0.01,0,0.01,0.02,0.03,0.04],"labels":false,"title":null,"tickSize":{"condition":{"test":"abs(datum.value*50-round(datum.value*50))>0.1","value":-5},"value":-10}}}}},
  {"data":{"values":[{"lab":"CORS\u00a0\u00a0\u00a0NS"}]},"mark":{"type":"text","align":"right","baseline":"middle","fontSize":12,"color":"#555555"},
   "encoding":{"x":{"datum":245,"type":"quantitative","axis":null},"y":{"datum":0.030,"type":"quantitative","axis":null},"text":{"field":"lab"}}}
 ],
 "resolve":{"axis":{"x":"independent","y":"independent"}}},
{"width":579,"height":136,
 "layer":[
  {"data":{"name":"trace"},"mark":{"type":"line","color":"#ff0000","strokeWidth":1.5,"clip":true},
   "encoding":{
    "x":{"field":"t","type":"quantitative","scale":{"domain":[0,251],"nice":false,"zero":false},"axis":{"orient":"bottom","values":[0,10,20,30,40,50,60,70,80,90,100,110,120,130,140,150,160,170,180,190,200,210,220,230,240,250],"labelPadding":13,"labelExpr":"datum.value % 50 == 0 ? datum.label : ''","title":"Tiempo [s]","titlePadding":4,"tickSize":{"condition":{"test":"datum.value % 50 != 0","value":-5},"value":-10}}},
    "y":{"field":"EW","type":"quantitative","scale":{"domain":[-0.0575,0.0884],"nice":false,"zero":false},"axis":{"orient":"left","values":[-0.05,-0.04,-0.03,-0.02,-0.01,0,0.01,0.02,0.03,0.04,0.05,0.06,0.07,0.08],"format":".2f","labelPadding":12,"labelExpr":"abs(datum.value*50-round(datum.value*50))>0.1 ? '' : datum.label","title":null,"tickSize":{"condition":{"test":"abs(datum.value*50-round(datum.value*50))>0.1","value":-5},"value":-10}}}}},
  {"data":{"name":"trace"},"mark":{"type":"line","opacity":0},
   "encoding":{
    "x":{"field":"t","type":"quantitative","axis":{"orient":"top","values":[0,10,20,30,40,50,60,70,80,90,100,110,120,130,140,150,160,170,180,190,200,210,220,230,240,250],"labels":false,"title":null,"tickSize":{"condition":{"test":"datum.value % 50 != 0","value":-5},"value":-10}}},
    "y":{"field":"EW","type":"quantitative","axis":{"orient":"right","values":[-0.05,-0.04,-0.03,-0.02,-0.01,0,0.01,0.02,0.03,0.04,0.05,0.06,0.07,0.08],"labels":false,"title":null,"tickSize":{"condition":{"test":"abs(datum.value*50-round(datum.value*50))>0.1","value":-5},"value":-10}}}}},
  {"data":{"values":[{"lab":"CORS\u00a0\u00a0\u00a0EW"}]},"mark":{"type":"text","align":"right","baseline":"middle","fontSize":12,"color":"#555555"},
   "encoding":{"x":{"datum":245,"type":"quantitative","axis":null},"y":{"datum":0.065,"type":"quantitative","axis":null},"text":{"field":"lab"}}}
 ],
 "resolve":{"axis":{"x":"independent","y":"independent"}}}
]
}
